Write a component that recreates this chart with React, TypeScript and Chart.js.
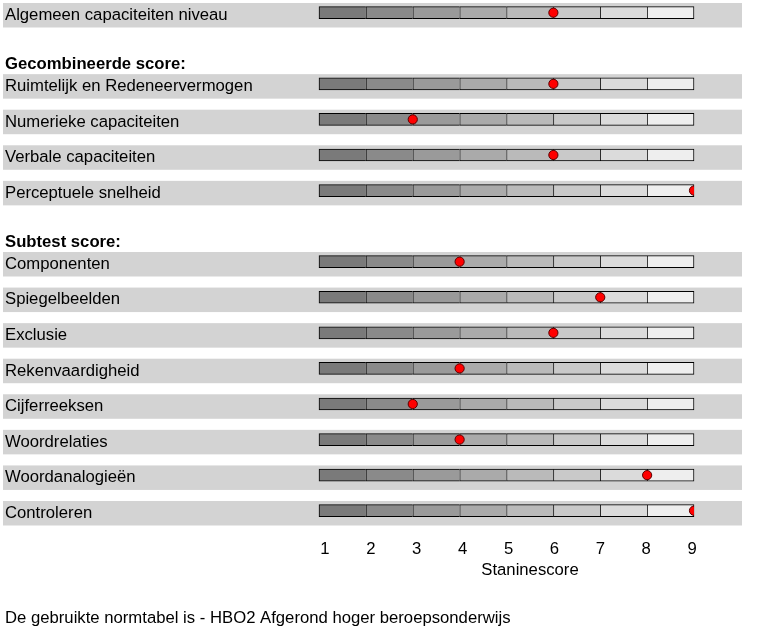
import React, { useEffect, useRef } from 'react';
import { Chart, registerables } from 'chart.js';

Chart.register(...registerables);

const rowLabels = [
  'Algemeen capaciteiten niveau',
  '',
  'Ruimtelijk en Redeneervermogen',
  'Numerieke capaciteiten',
  'Verbale capaciteiten',
  'Perceptuele snelheid',
  '',
  'Componenten',
  'Spiegelbeelden',
  'Exclusie',
  'Rekenvaardigheid',
  'Cijferreeksen',
  'Woordrelaties',
  'Woordanalogieën',
  'Controleren',
];
const staninescores: (number | null)[] = [6, null, 6, 3, 6, 9, null, 4, 7, 6, 4, 3, 4, 8, 9];
const headingRows = [1, 6];
const headingTexts = ['Gecombineerde score:', 'Subtest score:'];
const stanineTicks = [1, 2, 3, 4, 5, 6, 7, 8, 9];
const segmentColors = ['#7a7a7a', '#8a8a8a', '#9a9a9a', '#aaaaaa', '#bababa', '#c9c9c9', '#dbdbdb', '#eeeeee'];
const axisTitle = 'Staninescore';
const footnote = 'De gebruikte normtabel is - HBO2 Afgerond hoger beroepsonderwijs';

const FONT = "'Liberation Sans', Arial, sans-serif";
const FS = 16.7;
const W = 763;
const H = 634;
const AREA_TOP = 12.7;
const AREA_BOTTOM = 510.7;
const X2_HEIGHT = 70;

const decorPlugin = {
  id: 'decor',
  beforeDraw(chart: any) {
    const ctx = chart.ctx;
    const y = chart.scales.y;
    ctx.save();
    ctx.fillStyle = '#d3d3d3';
    rowLabels.forEach((lab, i) => {
      if (!lab) return;
      const c = y.getPixelForValue(i);
      ctx.fillRect(3, c - 9.7, 739, 24.5);
    });
    ctx.fillStyle = '#000';
    ctx.font = `bold ${FS}px ${FONT}`;
    ctx.textAlign = 'left';
    ctx.textBaseline = 'alphabetic';
    headingRows.forEach((r, k) => {
      const c = y.getPixelForValue(r);
      ctx.fillText(headingTexts[k], 5, c + 20.7);
    });
    ctx.restore();
  },
  afterDraw(chart: any) {
    const ctx = chart.ctx;
    const area = chart.chartArea;
    ctx.save();
    ctx.fillStyle = '#000';
    ctx.font = `${FS}px ${FONT}`;
    ctx.textBaseline = 'alphabetic';
    ctx.textAlign = 'center';
    ctx.fillText(axisTitle, area.left + 211, area.bottom + 64.3);
    ctx.textAlign = 'left';
    ctx.fillText(footnote, 5, area.bottom + 112.6);
    ctx.restore();
  },
};

export default function App() {
  const ref = useRef<HTMLCanvasElement | null>(null);

  useEffect(() => {
    if (!ref.current) return;
    const segDatasets = segmentColors.map((color, k) => ({
      type: 'bar' as const,
      label: `seg${k + 1}`,
      data: rowLabels.map((_, i) =>
        staninescores[i] == null ? null : [stanineTicks[k], stanineTicks[k + 1]]
      ),
      backgroundColor: color,
      borderColor: '#000',
      borderWidth: { top: 1, bottom: 1, left: 1, right: k === segmentColors.length - 1 ? 1 : 0 },
      borderSkipped: false,
      barThickness: 12,
      grouped: false,
      clip: false,
      xAxisID: 'x',
      yAxisID: 'y',
      order: 2,
    }));

    const chart = new Chart(ref.current, {
      type: 'bar',
      data: {
        labels: rowLabels,
        datasets: [
          ...segDatasets,
          {
            type: 'scatter' as const,
            label: 'score',
            data: staninescores as any,
            backgroundColor: '#ff0000',
            borderColor: '#5a0000',
            borderWidth: 1,
            pointRadius: 4.6,
            showLine: false,
            xAxisID: 'x',
            yAxisID: 'y',
            clip: { left: 0, right: 0, top: false, bottom: false } as any,
            order: 1,
          } as any,
        ] as any,
      },
      options: {
        animation: false,
        responsive: false,
        indexAxis: 'y',
        layout: {
          padding: { left: 5, right: 69, top: AREA_TOP, bottom: H - AREA_BOTTOM - X2_HEIGHT },
        },
        plugins: {
          legend: { display: false },
          tooltip: { enabled: false },
        },
        scales: {
          y: {
            type: 'category',
            labels: rowLabels,
            offset: false,
            grid: { display: false },
            border: { display: false },
            ticks: {
              autoSkip: false,
              crossAlign: 'far',
              padding: 0,
              labelOffset: 2.5,
              color: '#000',
              font: { family: FONT, size: FS },
            },
            afterFit: (s: any) => {
              s.width = 314;
            },
          },
          x: {
            type: 'linear',
            min: 1,
            max: 9,
            display: false,
          },
          x2: {
            type: 'linear',
            position: 'bottom',
            min: 0.869,
            max: 9.043,
            grid: { display: false, drawTicks: false },
            border: { display: false },
            ticks: {
              padding: 29,
              color: '#000',
              font: { family: FONT, size: FS },
            },
            afterBuildTicks: (s: any) => {
              s.ticks = stanineTicks.map((v) => ({ value: v }));
            },
            afterFit: (s: any) => {
              s.height = X2_HEIGHT;
            },
          },
        },
      } as any,
      plugins: [decorPlugin],
    });
    return () => chart.destroy();
  }, []);

  return (
    <div style={{ position: 'absolute', left: 0, top: 0, width: W, height: H, background: '#fff' }}>
      <canvas ref={ref} width={W} height={H} style={{ display: 'block' }} />
    </div>
  );
}
